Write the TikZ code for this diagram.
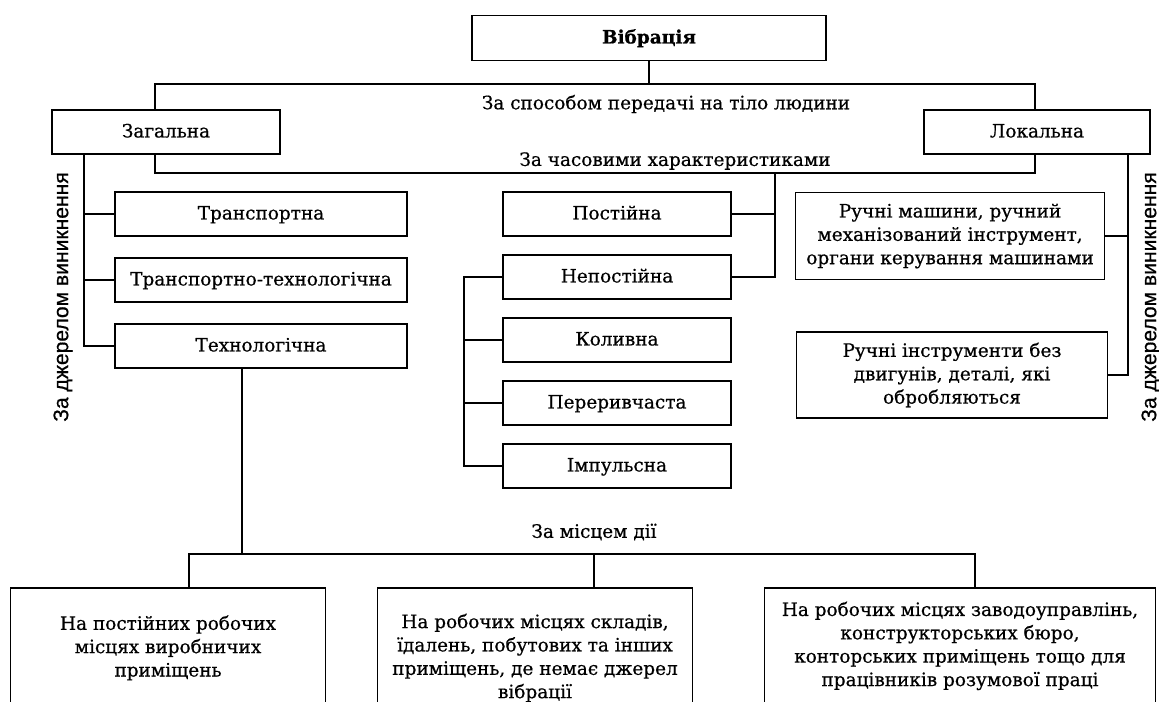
\documentclass[tikz,border=0pt]{standalone}
\usepackage{fontspec}
\setmainfont{DejaVu Serif}[FakeBold=0.6]
\newfontfamily\lblfont{Liberation Sans}[FakeBold=0.6]
\usepackage{tikz}

\begin{document}
\begin{tikzpicture}[x=0.02cm, y=-0.02cm, line width=1pt,
  box/.style={draw, fill=white, align=center, inner sep=2pt,
    font=\fontsize{10.5}{13.3}\selectfont},
  onebox/.style={box, text height=1.6ex, text depth=.4ex},
  lbl/.style={font=\fontsize{10.5}{13}\selectfont},
  vlbl/.style={rotate=90, font=\lblfont\fontsize{12}{13}\selectfont}]
\useasboundingbox (0,0) rectangle (1159,701);
\clip (0,0) rectangle (1159,701);

% top level
\node[onebox, minimum width=354*0.02cm, minimum height=45*0.02cm, font=\bfseries\fontsize{10.5}{13}\selectfont] (vibr) at (649,38) {Вібрація};
\node[onebox, minimum width=228*0.02cm, minimum height=44*0.02cm] (zag) at (166,132) {Загальна};
\node[onebox, minimum width=226*0.02cm, minimum height=44*0.02cm] (lok) at (1037,132) {Локальна};

% by source, general
\node[onebox, minimum width=292*0.02cm, minimum height=44*0.02cm] (transp) at (261,214) {Транспортна};
\node[onebox, minimum width=292*0.02cm, minimum height=44*0.02cm] (transptech) at (261,280) {Транспортно-технологічна};
\node[onebox, minimum width=292*0.02cm, minimum height=44*0.02cm] (tech) at (261,346) {Технологічна};

% by time
\node[onebox, minimum width=228*0.02cm, minimum height=44*0.02cm] (post) at (617,214) {Постійна};
\node[onebox, minimum width=228*0.02cm, minimum height=44*0.02cm] (nepost) at (617,277) {Непостійна};
\node[onebox, minimum width=228*0.02cm, minimum height=44*0.02cm] (koliv) at (617,340) {Коливна};
\node[onebox, minimum width=228*0.02cm, minimum height=44*0.02cm] (pererv) at (617,403) {Переривчаста};
\node[onebox, minimum width=228*0.02cm, minimum height=44*0.02cm] (impuls) at (617,466) {Імпульсна};

% by source, local
\node[box, minimum width=309*0.02cm, minimum height=87*0.02cm] (ruchmash) at (950,236) {Ручні машини, ручний\\механізований інструмент,\\органи керування машинами};
\node[box, minimum width=311*0.02cm, minimum height=86*0.02cm] (ruchinstr) at (952,375) {Ручні інструменти без\\двигунів, деталі, які\\обробляються};

% by place (boxes run past the lower edge)
\node[box, anchor=north, minimum width=315*0.02cm, minimum height=120*0.02cm] (mistse1) at (168,587) {На постійних робочих\\місцях виробничих\\приміщень};
\node[box, anchor=north, minimum width=315*0.02cm, minimum height=140*0.02cm] (mistse2) at (535,587) {На робочих місцях складів,\\їдалень, побутових та інших\\приміщень, де немає джерел\\вібрації};
\node[box, anchor=north, minimum width=391*0.02cm, minimum height=116*0.02cm] (mistse3) at (960,587) {На робочих місцях заводоуправлінь,\\конструкторських бюро,\\конторських приміщень тощо для\\працівників розумової праці};

% labels
\node[lbl] (lblsposib) at (666,104) {За способом передачі на тіло людини};
\node[lbl] (lblchas) at (675,161) {За часовими характеристиками};
\node[lbl] (lblmistse) at (594,532) {За місцем дії};
\node[vlbl] (lbldzherl) at (63,297) {За джерелом виникнення};
\node[vlbl] (lbldzherr) at (1151,297) {За джерелом виникнення};

% bus coordinates
\coordinate (t1) at (155,84);
\coordinate (t2) at (1035,84);
\coordinate (b1) at (155,173);
\coordinate (b2) at (1035,173);
\coordinate (b3) at (775,173);
\coordinate (l1) at (84,154);
\coordinate (c1) at (464,277);
\coordinate (r1) at (1128,154);
\coordinate (m0) at (242,554);
\coordinate (m1) at (189,554);
\coordinate (m2) at (594,554);
\coordinate (m3) at (975,554);

% connectors
\draw (vibr.south) -- (vibr.south |- t1);
\draw (t1 |- zag.north) -- (t1) -- (t2) -- (t2 |- lok.north);
\draw (b1 |- zag.south) -- (b1) -- (b2) -- (b2 |- lok.south);
\draw (b3) -- (b3 |- nepost.east) -- (nepost.east);
\draw (post.east) -- (b3 |- post.east);

\draw (l1 |- zag.south) -- (l1 |- tech.west) -- (tech.west);
\draw (transp.west) -- (l1 |- transp.west);
\draw (transptech.west) -- (l1 |- transptech.west);

\draw (nepost.west) -- (c1) -- (c1 |- impuls.west) -- (impuls.west);
\draw (koliv.west) -- (c1 |- koliv.west);
\draw (pererv.west) -- (c1 |- pererv.west);

\draw (r1 |- lok.south) -- (r1 |- ruchinstr.east) -- (ruchinstr.east);
\draw (ruchmash.east) -- (r1 |- ruchmash.east);

\draw (m0 |- tech.south) -- (m0);
\draw (m1 |- mistse1.north) -- (m1) -- (m3) -- (m3 |- mistse3.north);
\draw (m2) -- (m2 |- mistse2.north);
\end{tikzpicture}
\end{document}
